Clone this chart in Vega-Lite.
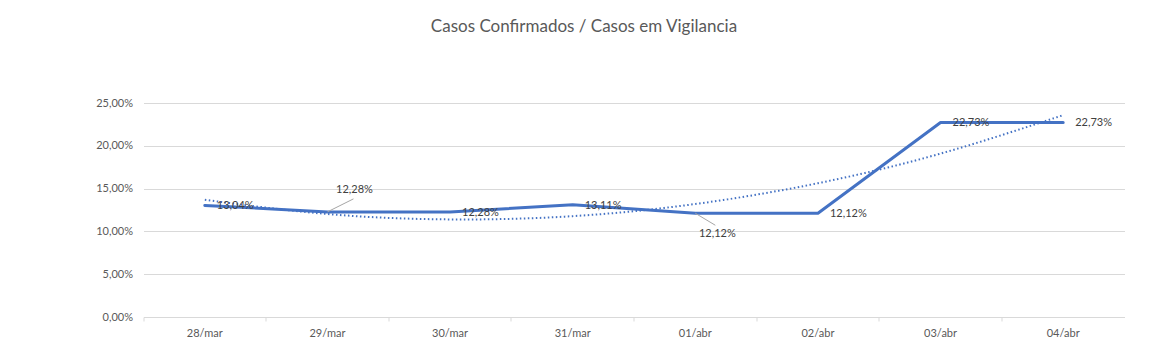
{
  "$schema": "https://vega.github.io/schema/vega-lite/v6.json",
  "width": 981,
  "height": 214,
  "autosize": {"type": "none"},
  "padding": {"left": 143.5, "top": 103, "right": 45.5, "bottom": 47},
  "background": "white",
  "config": {
    "locale": {"number": {"decimal": ",", "thousands": ".", "grouping": [3], "currency": ["R$", ""]}},
    "view": {"stroke": null},
    "font": "Lato",
    "axisY": {
      "title": null, "format": ".2%", "values": [0, 0.05, 0.1, 0.15, 0.2, 0.25],
      "domain": false, "ticks": false, "grid": true, "gridColor": "#d9d9d9", "gridWidth": 1,
      "labelColor": "#595959", "labelFontSize": 11, "labelFont": "Lato", "labelPadding": 11
    }
  },
  "title": {
    "text": "Casos Confirmados / Casos em Vigilancia",
    "fontSize": 17,
    "font": "Lato",
    "fontWeight": "normal",
    "color": "#595959",
    "anchor": "middle",
    "frame": "group",
    "dx": -50,
    "offset": 61
  },
  "data": {
    "values": [
      {"data": "28/mar", "valor": 0.1304, "tendencia": 0.1369},
      {"data": "29/mar", "valor": 0.1228, "tendencia": 0.1203},
      {"data": "30/mar", "valor": 0.1228, "tendencia": 0.1140},
      {"data": "31/mar", "valor": 0.1311, "tendencia": 0.1178},
      {"data": "01/abr", "valor": 0.1212, "tendencia": 0.1320},
      {"data": "02/abr", "valor": 0.1212, "tendencia": 0.1563},
      {"data": "03/abr", "valor": 0.2273, "tendencia": 0.1909},
      {"data": "04/abr", "valor": 0.2273, "tendencia": 0.2358}
    ]
  },
  "resolve": {"axis": {"x": "independent"}},
  "layer": [
    {
      "mark": {"type": "line", "color": "#4472C4", "strokeWidth": 3, "strokeCap": "round", "strokeJoin": "round"},
      "encoding": {
        "x": {
          "field": "data", "type": "ordinal", "sort": null,
          "scale": {"type": "band", "paddingInner": 0, "paddingOuter": 0},
          "axis": {
            "orient": "bottom",
            "title": null, "domain": true, "domainColor": "#d9d9d9", "domainWidth": 1,
            "ticks": true, "tickColor": "#d9d9d9", "tickSize": 4, "bandPosition": 0,
            "labels": false, "grid": false
          }
        },
        "y": {
          "field": "valor", "type": "quantitative",
          "scale": {"domain": [0, 0.25], "nice": false, "zero": true}
        }
      }
    },
    {
      "mark": {"type": "line", "color": "#4472C4", "strokeWidth": 2, "strokeDash": [1.5, 2.5], "strokeCap": "butt", "interpolate": "natural"},
      "encoding": {
        "x": {
          "field": "data", "type": "ordinal", "sort": null,
          "axis": {
            "orient": "bottom",
            "title": null, "domain": false, "ticks": false, "grid": false,
            "labelAngle": 0, "labelColor": "#595959", "labelFontSize": 11, "labelFont": "Lato", "labelPadding": 10
          }
        },
        "y": {"field": "tendencia", "type": "quantitative"}
      }
    },
    {
      "transform": [{"filter": "datum.data != '29/mar' && datum.data != '01/abr'"}],
      "mark": {"type": "text", "align": "left", "baseline": "middle", "dx": 12, "dy": 1, "fontSize": 11, "color": "#404040", "font": "Lato"},
      "encoding": {
        "x": {"field": "data", "type": "ordinal", "sort": null, "axis": null},
        "y": {"field": "valor", "type": "quantitative"},
        "text": {"field": "valor", "type": "quantitative", "format": ".2%"}
      }
    },
    {
      "transform": [{"filter": "datum.data == '29/mar'"}],
      "mark": {"type": "text", "align": "center", "baseline": "middle", "dx": 27, "dy": -22, "fontSize": 11, "color": "#404040", "font": "Lato"},
      "encoding": {
        "x": {"field": "data", "type": "ordinal", "sort": null, "axis": null},
        "y": {"field": "valor", "type": "quantitative"},
        "text": {"field": "valor", "type": "quantitative", "format": ".2%"}
      }
    },
    {
      "transform": [{"filter": "datum.data == '01/abr'"}],
      "mark": {"type": "text", "align": "center", "baseline": "middle", "dx": 22, "dy": 21, "fontSize": 11, "color": "#404040", "font": "Lato"},
      "encoding": {
        "x": {"field": "data", "type": "ordinal", "sort": null, "axis": null},
        "y": {"field": "valor", "type": "quantitative"},
        "text": {"field": "valor", "type": "quantitative", "format": ".2%"}
      }
    },
    {
      "transform": [{"filter": "datum.data == '29/mar'"}],
      "mark": {"type": "rule", "color": "#a6a6a6", "strokeWidth": 1, "x2Offset": 26, "y2Offset": -13},
      "encoding": {
        "x": {"field": "data", "type": "ordinal", "sort": null, "axis": null, "bandPosition": 0.5},
        "x2": {"field": "data", "bandPosition": 0.5},
        "y": {"field": "valor", "type": "quantitative"},
        "y2": {"field": "valor"}
      }
    },
    {
      "transform": [{"filter": "datum.data == '01/abr'"}],
      "mark": {"type": "rule", "color": "#a6a6a6", "strokeWidth": 1, "x2Offset": 20, "y2Offset": 12},
      "encoding": {
        "x": {"field": "data", "type": "ordinal", "sort": null, "axis": null, "bandPosition": 0.5},
        "x2": {"field": "data", "bandPosition": 0.5},
        "y": {"field": "valor", "type": "quantitative"},
        "y2": {"field": "valor"}
      }
    }
  ]
}
